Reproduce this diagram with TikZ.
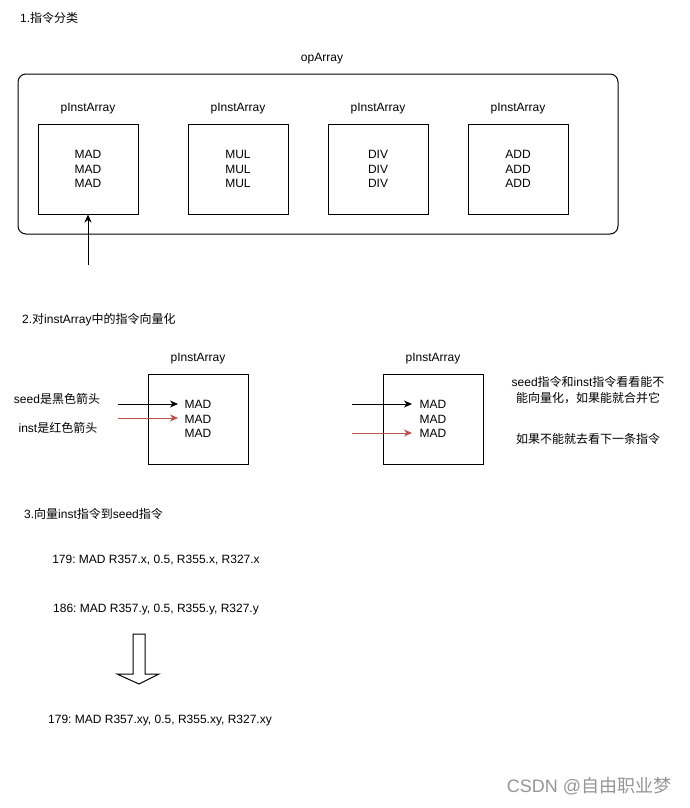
\documentclass[tikz,border=0pt]{standalone}
\usepackage{fontspec}
\setmainfont{Liberation Sans}
\newfontfamily\cjk{Noto Sans CJK SC}
\usepackage{tikz}
\usetikzlibrary{arrows.meta, positioning}
\frenchspacing

\definecolor{instred}{RGB}{184,84,80}
\definecolor{markgray}{RGB}{150,150,150}

\begin{document}
\begin{tikzpicture}[
    x=1pt, y=-1pt,
    every node/.style={font=\fontsize{12}{14.5}\selectfont, inner sep=0pt},
    title/.style={anchor=base west},
    lbl/.style={anchor=base},
    instbox/.style={rectangle, draw, line width=1pt, minimum width=100pt, minimum height=90pt, align=center},
    arrow/.style={-{Stealth[length=8pt, width=7pt, inset=2.5pt]}, line width=1pt},
    redarrow/.style={arrow, draw=instred},
]
\fill[white] (0,0) rectangle (690,808);
\useasboundingbox (0,0) rectangle (690,808);

% 1. classify
\node[title] (t1) at (20,23) {1.{\cjk 指令分类}};
\node[rectangle, draw, line width=1pt, rounded corners=8pt, minimum width=600pt, minimum height=160pt] (oparray) at (318,154) {};
\node[lbl] (oplabel) at (322,62) {opArray};
\node[instbox] (boxa) at (88,169) {MAD\\MAD\\MAD};
\node[instbox] (boxb) at (238,169) {MUL\\MUL\\MUL};
\node[instbox] (boxc) at (378,169) {DIV\\DIV\\DIV};
\node[instbox] (boxd) at (518,169) {ADD\\ADD\\ADD};
\foreach \b in {boxa,boxb,boxc,boxd}
    \node[above=12pt of \b.north, anchor=base] (\b lbl) {pInstArray};
\coordinate (ptr) at (88,265);
\draw[arrow] (ptr) -- (boxa.south);

% 2. vectorize
\node[title] (t2) at (22,323) {2.{\cjk 对}instArray{\cjk 中的指令向量化}};
\node[instbox] (seedbox) at (198,419) {MAD\\MAD\\MAD};
\node[instbox] (mergebox) at (433,419) {MAD\\MAD\\MAD};
\foreach \b in {seedbox,mergebox}
    \node[above=12pt of \b.north, anchor=base] (\b lbl) {pInstArray};
\node[lbl] (seednote) at (57,403) {seed{\cjk 是黑色箭头}};
\node[lbl] (instnote) at (58,432) {inst{\cjk 是红色箭头}};
\coordinate (seedtail) at (118,404);
\coordinate (seedhead) at (178,404);
\coordinate (insttail) at (118,418);
\coordinate (insthead) at (178,418);
\draw[arrow] (seedtail) -- (seedhead);
\draw[redarrow] (insttail) -- (insthead);
\coordinate (seedtail2) at (352,404);
\coordinate (seedhead2) at (412,404);
\coordinate (insttail2) at (352,433);
\coordinate (insthead2) at (412,433);
\draw[arrow] (seedtail2) -- (seedhead2);
\draw[redarrow] (insttail2) -- (insthead2);
\node[lbl] (rule1) at (588,386) {seed{\cjk 指令和}inst{\cjk 指令看看能不}};
\node[lbl] (rule2) at (588,402) {{\cjk 能向量化，如果能就合并它}};
\node[lbl] (rule3) at (588,443) {{\cjk 如果不能就去看下一条指令}};

% 3. merge
\node[title] (t3) at (24,518) {3.{\cjk 向量}inst{\cjk 指令到}seed{\cjk 指令}};
\node[lbl] (instx) at (156,563) {179: MAD R357.x, 0.5, R355.x, R327.x};
\node[lbl] (insty) at (156,612) {186: MAD R357.y, 0.5, R355.y, R327.y};
\draw[line width=1pt] (133,634) -- (145,634) -- (145,674) -- (159,674) -- (139,684)
    -- (117,674) -- (133,674) -- cycle;
\node[lbl] (instxy) at (160,723) {179: MAD R357.xy, 0.5, R355.xy, R327.xy};

\node[lbl, font=\fontsize{18}{21}\selectfont, text=markgray] (mark) at (589,792) {CSDN @{\cjk 自由职业梦}};
\end{tikzpicture}
\end{document}
